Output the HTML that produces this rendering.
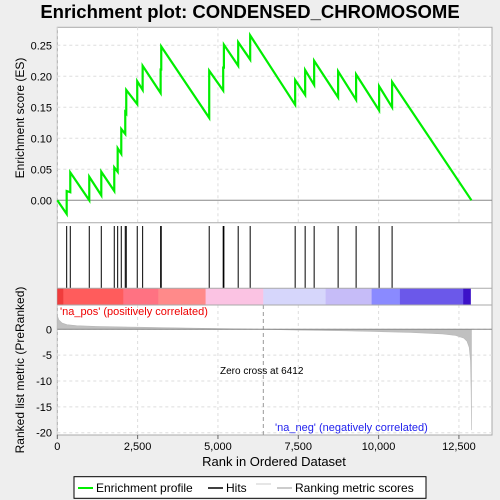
<!DOCTYPE html>
<html><head><meta charset="utf-8"><style>
body{margin:0;background:#eeeeee;font-family:"Liberation Sans",sans-serif}
svg{display:block}
text{font-family:"Liberation Sans",sans-serif}
</style></head><body>
<svg id="c" width="500" height="500" viewBox="0 0 500 500">
<rect x="0" y="0" width="500" height="500" fill="#eeeeee"/>
<text x="250" y="18" text-anchor="middle" font-size="18.5" font-weight="bold" fill="#000">Enrichment plot: CONDENSED_CHROMOSOME</text>
<rect x="57.3" y="27.3" width="434.7" height="407.7" fill="#fff" stroke="#aaa"/>
<g id="grid"></g>
<g id="colorbar"></g>
<g id="metric"></g>
<g id="hits"></g>
<g id="es"></g>
<g id="axes"></g>
<line x1="57.3" y1="222.7" x2="492" y2="222.7" stroke="#aaa"/>
<line x1="57.3" y1="288.3" x2="492" y2="288.3" stroke="#aaa"/>
<line x1="57.3" y1="305" x2="492" y2="305" stroke="#aaa"/>
<text x="60" y="315" font-size="11" fill="#ee0000">'na_pos' (positively correlated)</text>
<text x="275" y="431" font-size="11" fill="#2222ee">'na_neg' (negatively correlated)</text>
<text x="220" y="374" font-size="10" fill="#000">Zero cross at 6412</text>
<text x="274" y="466" text-anchor="middle" font-size="13" fill="#000">Rank in Ordered Dataset</text>
<text transform="translate(24,118) rotate(-90)" text-anchor="middle" font-size="12" fill="#000">Enrichment score (ES)</text>
<text transform="translate(24,370) rotate(-90)" text-anchor="middle" font-size="12" fill="#000">Ranked list metric (PreRanked)</text>
<g>
<rect x="74" y="476.7" width="352" height="21.6" fill="#fff" stroke="#000"/>
<line x1="78" y1="488" x2="93" y2="488" stroke="#00ee00" stroke-width="2"/>
<text x="96" y="492" font-size="12">Enrichment profile</text>
<line x1="208" y1="488" x2="223" y2="488" stroke="#000" stroke-width="1.5"/>
<text x="226" y="492" font-size="12">Hits</text>
<line x1="256" y1="484" x2="271" y2="484" stroke="#ccc"/>
<line x1="277" y1="488" x2="292" y2="488" stroke="#bbb" stroke-width="1.5"/>
<text x="295" y="492" font-size="12">Ranking metric scores</text>
</g>
</svg>
<script>
const N = 12890;
const hitRanks = [292,404,995,1369,1773,1879,1991,2115,2146,2488,2656,3216,3235,4728,5163,5185,5630,6003,7403,7714,7994,8740,9300,10016,10420];
const esBefore = [-0.022,0.013,0.000,0.008,0.015,0.046,0.075,0.107,0.140,0.155,0.178,0.173,0.211,0.133,0.177,0.214,0.217,0.227,0.154,0.170,0.186,0.166,0.162,0.145,0.150];
const esAfter  = [0.015,0.045,0.038,0.046,0.053,0.084,0.115,0.142,0.178,0.192,0.217,0.211,0.248,0.209,0.214,0.251,0.255,0.266,0.194,0.210,0.225,0.208,0.203,0.184,0.191];
const esTicks = [0,0.05,0.10,0.15,0.20,0.25];
const metricRanks = [0,50,150,300,600,1200,2500,4000,5500,6412,7500,9000,10000,11000,12000,12400,12650,12750,12820,12860,12880,12890];
const metricVals  = [2.6,1.8,1.2,0.9,0.7,0.55,0.4,0.25,0.1,0,-0.15,-0.3,-0.45,-0.6,-0.9,-1.2,-1.7,-2.3,-3.5,-6,-12,-19.5];
const metricTicks = [0,-5,-10,-15,-20];
const xTicks = [0,2500,5000,7500,10000,12500];
const cbEdges = [0,187,2054,3143,4616,6410,8350,9782,10663,12634,12862];
const cbColors = ["#f03c3c","#ff5c5c","#ff7282","#ff8a8a","#fbc3e3","#d6d6fb","#c6bcf8","#8a8aff","#6b58ea","#3c12c8"];
const S = "http://www.w3.org/2000/svg";
const X = v => 57.3 + v * 0.03213;
const YE = e => 200.3 - e * 620;
const YM = m => 329.3 - m * 5.17;
function el(p, t, a){const e=document.createElementNS(S,t);for(const k in a)e.setAttribute(k,a[k]);p.appendChild(e);return e;}
const g = id => document.getElementById(id);
xTicks.forEach(t=>{
  const l=el(g('grid'),'line',{x1:X(t),x2:X(t),y1:27.3,y2:222.7,stroke:'#ddd','stroke-dasharray':'3,3'});
  
  
  el(g('grid'),'line',{x1:X(t),x2:X(t),y1:305,y2:435,stroke:'#ddd','stroke-dasharray':'3,3'});
  const tx=el(g('axes'),'text',{x:X(t),y:450,'text-anchor':'middle','font-size':'11'});
  tx.textContent=t.toLocaleString('en-US');
  
  
  el(g('axes'),'line',{x1:X(t),x2:X(t),y1:435,y2:439,stroke:'#666'});
});
esTicks.forEach(t=>{
  el(g('grid'),'line',{x1:57.3,x2:492,y1:YE(t),y2:YE(t),stroke:t===0?'#888':'#ddd','stroke-dasharray':t===0?'':'3,3'});
  const tx=el(g('axes'),'text',{x:52,y:YE(t)+4,'text-anchor':'end','font-size':'11'});
  tx.textContent=t.toFixed(2);
  
  
});
metricTicks.forEach(t=>{
  el(g('grid'),'line',{x1:57.3,x2:492,y1:YM(t),y2:YM(t),stroke:'#ddd','stroke-dasharray':'3,3'});
  const tx=el(g('axes'),'text',{x:52,y:YM(t)+4,'text-anchor':'end','font-size':'11'});
  tx.textContent=String(t);
  
  
});
el(g('grid'),'line',{x1:X(6412),x2:X(6412),y1:305,y2:435,stroke:'#999','stroke-dasharray':'4,3'});
for(let i=0;i<cbColors.length;i++){
  const a=cbEdges[i], b=cbEdges[i+1];
  const r=el(g('colorbar'),'rect',{x:X(a),y:288.3,width:X(b)-X(a)+0.3,height:16.7,fill:cbColors[i]});
  
  
}
let d='M'+X(0)+','+YM(0);
metricRanks.forEach((r,i)=>{d+=' L'+X(r)+','+YM(metricVals[i]);});
d+=' L'+X(N)+','+YM(0)+' Z';
const ma=el(g('metric'),'path',{d:d,fill:'#c0c0c0',stroke:'#b8b8b8','stroke-width':'0.6'});


el(g('metric'),'line',{x1:57.3,x2:492,y1:YM(0),y2:YM(0),stroke:'#888'});
hitRanks.forEach(r=>{
  const l=el(g('hits'),'line',{x1:X(r),x2:X(r),y1:226,y2:288,stroke:'#000','stroke-width':'1'});
  
  
});
let p='M'+X(0)+','+YE(0);
hitRanks.forEach((r,i)=>{p+=' L'+X(r)+','+YE(esBefore[i])+' L'+X(r)+','+YE(esAfter[i]);});
p+=' L'+X(N)+','+YE(0);
const ec=el(g('es'),'path',{d:p,fill:'none',stroke:'#00ee00','stroke-width':'2.2'});


</script>
</body></html>
